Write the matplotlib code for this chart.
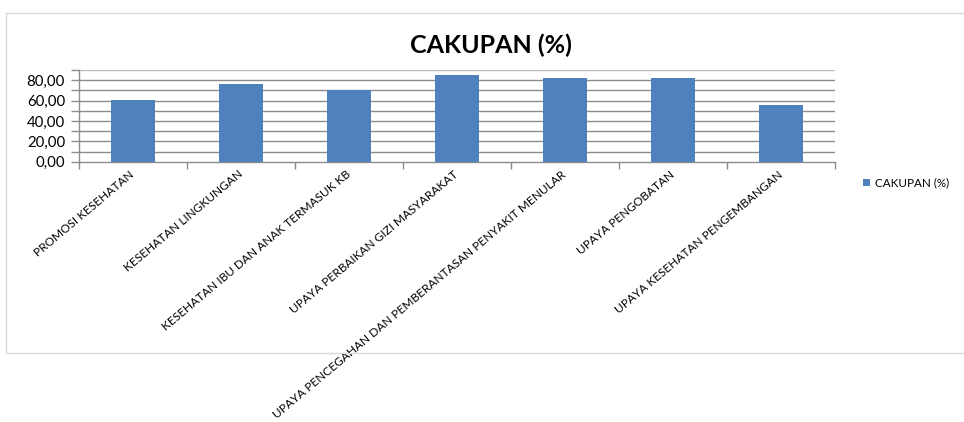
import matplotlib
matplotlib.use("Agg")
import matplotlib.pyplot as plt
from matplotlib.patches import Rectangle
import numpy as np

categories = [
    "PROMOSI KESEHATAN",
    "KESEHATAN LINGKUNGAN",
    "KESEHATAN IBU DAN ANAK TERMASUK KB",
    "UPAYA PERBAIKAN GIZI MASYARAKAT",
    "UPAYA PENCEGAHAN DAN PEMBERANTASAN PENYAKIT MENULAR",
    "UPAYA PENGOBATAN",
    "UPAYA KESEHATAN PENGEMBANGAN",
]
values = [60.4, 76.1, 70.2, 84.9, 82.0, 82.0, 55.5]
series_name = "CAKUPAN (%)"
title = "CAKUPAN (%)"
ytick_values = [0, 20, 40, 60, 80]
ytick_labels = ["0,00", "20,00", "40,00", "60,00", "80,00"]

plt.rcParams['font.family'] = ['Lato', 'DejaVu Sans']

fig = plt.figure(figsize=(9.64, 4.22), dpi=100)
fig.patch.set_facecolor('white')

# chart border
fig.patches.append(Rectangle((6/964, 1-353/422), 1.0, (353-13)/422,
                             transform=fig.transFigure, fill=False,
                             edgecolor='#d9d9d9', linewidth=1.0, clip_on=False))

ax = fig.add_axes([79/964, 1-161.7/422, (835-79)/964, (161.7-70)/422])
x = np.arange(len(categories))
bars = ax.bar(x, values, width=0.41, color='#4f81bd', label=series_name, zorder=3)

ax.set_xlim(-0.5, len(categories)-0.5)
ax.set_ylim(0, 90)

ax.set_yticks(ytick_values)
ax.set_yticklabels(ytick_labels, fontsize=10.8)
ax.set_yticks(np.arange(10, 91, 20), minor=True)
for y in np.arange(10, 91, 10):
    ax.axhline(y, color='#8c8c8c' if y < 90 else '#bdbdbd', linewidth=1.0, zorder=1)
ax.tick_params(axis='y', which='both', length=6, color='#8c8c8c', pad=4, width=1)

ax.set_xticks(np.arange(-0.5, len(categories)), minor=True)
ax.set_xticks(x)
ax.set_xticklabels(categories, rotation=40, ha='right', va='center',
                   rotation_mode='anchor', fontsize=8.6)
ax.tick_params(axis='x', which='major', length=0, pad=8)
ax.tick_params(axis='x', which='minor', length=5, color='#8c8c8c', width=1)

for s in ['top', 'right']:
    ax.spines[s].set_visible(False)
for s in ['left', 'bottom']:
    ax.spines[s].set_color('#8c8c8c')
    ax.spines[s].set_linewidth(1.0)

fig.text(491/964, 1-45/422, title, ha='center', va='center', fontsize=18, fontweight='bold')

leg = fig.legend(handles=[bars], labels=[series_name], loc='center left',
                 bbox_to_anchor=(852/964, 1-183/422), frameon=False, fontsize=8.4,
                 handlelength=0.65, handleheight=0.65, handletextpad=0.4)

fig.savefig("out.png", dpi=100)
